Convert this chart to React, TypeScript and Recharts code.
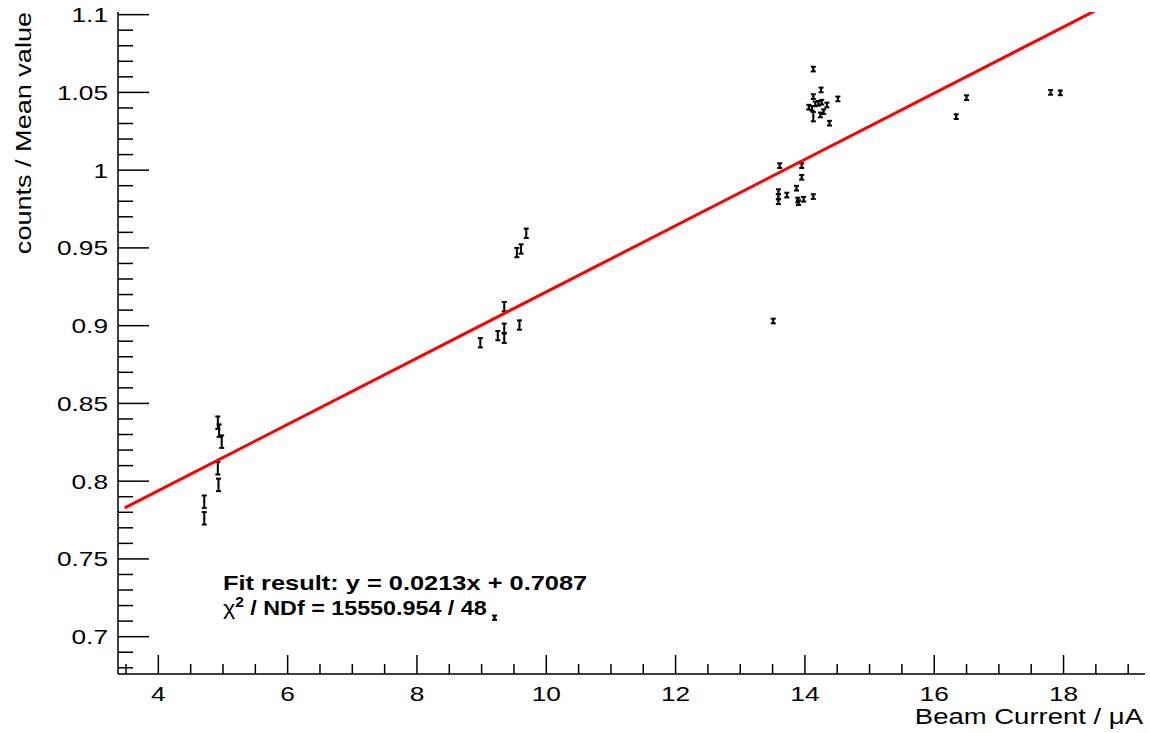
import React from "react";
import { ScatterChart, Scatter, XAxis, YAxis, ErrorBar } from "recharts";

// ---- data ----
const beamCurrent: number[] = [
  4.71, 4.71, 4.92, 4.94, 4.98, 4.92, 4.93,
  8.98, 9.25, 9.35, 9.35, 9.35, 9.585, 9.545, 9.61, 9.69, 9.2,
  14.13, 14.25, 14.13, 14.51, 14.06, 14.11, 14.16, 14.21, 14.26, 14.34, 14.29, 14.24, 14.13, 14.38,
  13.61, 13.95, 13.95, 13.59, 13.59, 13.59, 13.72, 13.87, 13.89, 13.9, 13.98, 14.13,
  13.51,
  16.5, 16.34, 17.8, 17.95,
];
const countsOverMean: number[] = [
  0.7868, 0.7761, 0.8376, 0.8325, 0.8254, 0.8083, 0.7976,
  0.889, 0.8936, 0.8983, 0.8919, 0.9122, 0.9004, 0.947, 0.9493, 0.9594, 0.7122,
  1.065, 1.0516, 1.0473, 1.0458, 1.0405, 1.0398, 1.0426, 1.043, 1.0437, 1.0419, 1.0376, 1.0355, 1.0344, 1.0302,
  1.0029, 1.0029, 0.9954, 0.9862, 0.983, 0.9797, 0.984, 0.9884, 0.9808, 0.9791, 0.9813, 0.983,
  0.903,
  1.0466, 1.0344, 1.05, 1.0497,
];
const countsError: number[] = [
  0.004, 0.004, 0.004, 0.004, 0.004, 0.004, 0.004,
  0.003, 0.003, 0.003, 0.003, 0.003, 0.003, 0.003, 0.003, 0.003, 0.0014,
  0.0015, 0.0015, 0.0015, 0.0015, 0.0015, 0.0015, 0.0015, 0.0015, 0.0015, 0.0015, 0.0015, 0.0015, 0.003, 0.0015,
  0.0015, 0.0015, 0.0015, 0.0015, 0.0015, 0.0015, 0.0015, 0.0015, 0.0015, 0.0015, 0.0015, 0.0015,
  0.0015,
  0.0015, 0.0015, 0.0015, 0.0015,
];

const fitSlope = 0.0213;
const fitIntercept = 0.7087;
const fitRange: number[] = [3.48, 18.52];

const xTicks: number[] = [
  3.5, 4, 4.5, 5, 5.5, 6, 6.5, 7, 7.5, 8, 8.5, 9, 9.5, 10, 10.5, 11, 11.5, 12,
  12.5, 13, 13.5, 14, 14.5, 15, 15.5, 16, 16.5, 17, 17.5, 18, 18.5, 19,
];
const yTicks: number[] = [
  0.68, 0.69, 0.7, 0.71, 0.72, 0.73, 0.74, 0.75, 0.76, 0.77, 0.78, 0.79, 0.8,
  0.81, 0.82, 0.83, 0.84, 0.85, 0.86, 0.87, 0.88, 0.89, 0.9, 0.91, 0.92, 0.93,
  0.94, 0.95, 0.96, 0.97, 0.98, 0.99, 1.0, 1.01, 1.02, 1.03, 1.04, 1.05, 1.06,
  1.07, 1.08, 1.09, 1.1,
];

const xTitle = "Beam Current / \u03bcA";
const yTitle = "counts / Mean value";
const fitText = "Fit result: y = 0.0213x + 0.7087";
const chiText = " / NDf = 15550.954 / 48";

const points = beamCurrent.map((x, i) => ({ x, y: countsOverMean[i], err: countsError[i] }));
const fitLine = fitRange.map((x) => ({ x, y: fitSlope * x + fitIntercept }));

const FONT = "'Liberation Sans', Arial, Helvetica, sans-serif";
const SX = 1.25;

const XTick = (props: any) => {
  const { x, y, payload } = props;
  const v = payload.value as number;
  const major = Math.abs(v / 2 - Math.round(v / 2)) < 1e-6;
  return (
    <g>
      <line x1={x} x2={x} y1={y} y2={y - (major ? 19 : 10)} stroke="#000" strokeWidth={1.5} />
      {major && (
        <text
          x={0}
          y={0}
          transform={`translate(${x},${y + 27}) scale(${SX},1)`}
          textAnchor="middle"
          fontSize={21}
          fontFamily={FONT}
          fill="#000"
        >
          {String(v)}
        </text>
      )}
    </g>
  );
};

const YTick = (props: any) => {
  const { x, y, payload } = props;
  const v = payload.value as number;
  const major = Math.abs(v * 20 - Math.round(v * 20)) < 1e-6;
  return (
    <g>
      <line x1={x} x2={x + (major ? 31 : 15)} y1={y} y2={y} stroke="#000" strokeWidth={1.5} />
      {major && (
        <text
          x={0}
          y={0}
          transform={`translate(${x - 10},${y + 7.5}) scale(${SX},1)`}
          textAnchor="end"
          fontSize={21}
          fontFamily={FONT}
          fill="#000"
        >
          {String(Number(v.toFixed(2)))}
        </text>
      )}
    </g>
  );
};

const Dot = (props: any) => {
  const { cx, cy } = props;
  if (cx == null || cy == null) return null;
  return <rect x={cx - 1} y={cy - 0.5} width={2} height={1} fill="#000" />;
};

const NoShape = () => null;

export default function App() {
  return (
    <div style={{ position: "absolute", left: 0, top: 0, width: 1150, height: 733, background: "#fff" }}>
      <ScatterChart width={1150} height={733} margin={{ top: 12, right: 5, left: 0, bottom: 0 }}>
        <XAxis
          type="number"
          dataKey="x"
          domain={[3.376, 19.26]}
          allowDataOverflow
          ticks={xTicks}
          interval={0}
          tick={<XTick />}
          tickSize={0}
          tickMargin={0}
          tickLine={false}
          height={59}
          axisLine={{ stroke: "#000", strokeWidth: 1.5 }}
        />
        <XAxis
          xAxisId="top"
          orientation="top"
          type="number"
          domain={[3.376, 19.26]}
          height={0}
          tick={false}
          tickLine={false}
          axisLine={{ stroke: "#000", strokeWidth: 1.5 }}
        />
        <YAxis
          type="number"
          dataKey="y"
          domain={[0.676, 1.1017]}
          allowDataOverflow
          ticks={yTicks}
          interval={0}
          tick={<YTick />}
          tickSize={0}
          tickMargin={0}
          tickLine={false}
          width={118}
          axisLine={{ stroke: "#000", strokeWidth: 1.5 }}
        />
        <YAxis
          yAxisId="right"
          orientation="right"
          type="number"
          domain={[0.676, 1.1017]}
          width={0}
          tick={false}
          tickLine={false}
          axisLine={{ stroke: "#000", strokeWidth: 1.5 }}
        />
        <Scatter data={points} shape={<Dot />} isAnimationActive={false}>
          <ErrorBar dataKey="err" direction="y" width={2.5} stroke="#000" strokeWidth={2} isAnimationActive={false} />
        </Scatter>
        <Scatter
          data={fitLine}
          shape={<NoShape />}
          line={{ stroke: "#ff0000", strokeWidth: 3 }}
          isAnimationActive={false}
        />
      </ScatterChart>
      <svg
        width={1150}
        height={733}
        style={{ position: "absolute", left: 0, top: 0, pointerEvents: "none" }}
      >
        <text
          x={0}
          y={0}
          transform={`translate(1143,724) scale(${SX},1)`}
          textAnchor="end"
          fontSize={22}
          fontFamily={FONT}
          fill="#000"
        >
          {xTitle}
        </text>
        <text
          x={0}
          y={0}
          transform={`translate(31,12) rotate(-90) scale(1.23,1)`}
          textAnchor="end"
          fontSize={22}
          fontFamily={FONT}
          fill="#000"
        >
          {yTitle}
        </text>
        <text
          x={0}
          y={0}
          transform={`translate(223,590) scale(1.21,1)`}
          fontSize={21}
          fontWeight="bold"
          fontFamily={FONT}
          fill="#000"
        >
          {fitText}
        </text>
        <text
          x={0}
          y={0}
          transform={`translate(223,615) scale(1.11,1)`}
          fontSize={21}
          fontFamily={FONT}
          fill="#000"
        >
          <tspan fontWeight="normal">{"\u03c7"}</tspan>
          <tspan fontWeight="bold" fontSize={14} dy={-8}>2</tspan>
          <tspan fontWeight="bold" dy={8}>{chiText}</tspan>
        </text>
      </svg>
    </div>
  );
}
